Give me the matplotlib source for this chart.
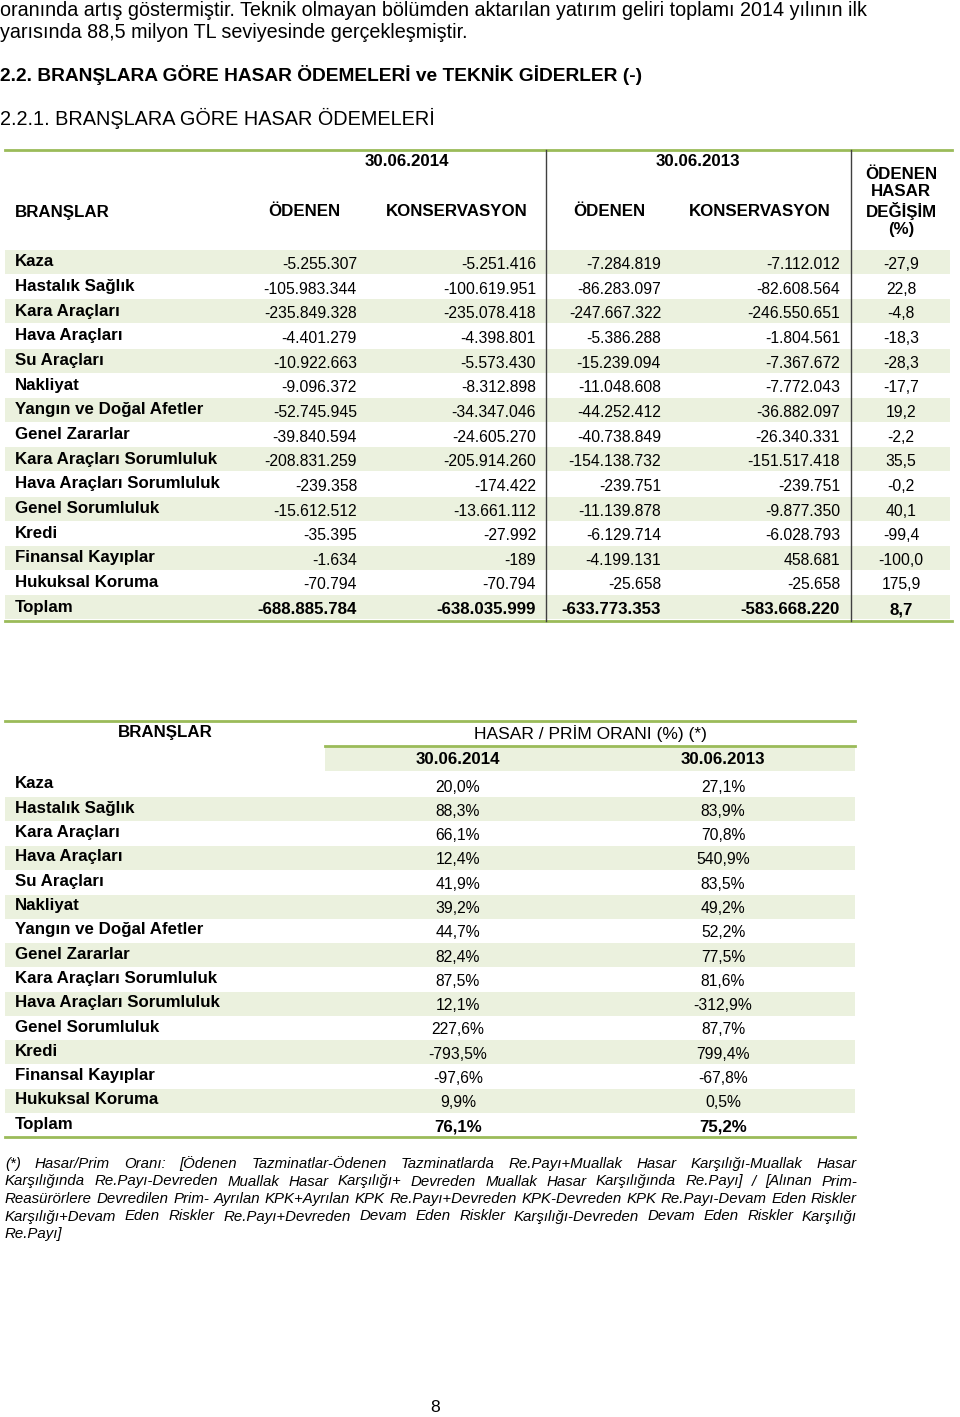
import matplotlib
matplotlib.use("Agg")
import matplotlib.pyplot as plt
from matplotlib.patches import Rectangle

plt.rcParams['font.family'] = ['Liberation Sans', 'DejaVu Sans']

GREEN = '#9bbb59'
SHADE = '#ebf1de'

branches = ["Kaza", "Hastalık Sağlık", "Kara Araçları", "Hava Araçları", "Su Araçları",
            "Nakliyat", "Yangın ve Doğal Afetler", "Genel Zararlar",
            "Kara Araçları Sorumluluk", "Hava Araçları Sorumluluk", "Genel Sorumluluk",
            "Kredi", "Finansal Kayıplar", "Hukuksal Koruma", "Toplam"]
odenen_2014 = [-5255307, -105983344, -235849328, -4401279, -10922663, -9096372, -52745945,
               -39840594, -208831259, -239358, -15612512, -35395, -1634, -70794, -688885784]
kons_2014 = [-5251416, -100619951, -235078418, -4398801, -5573430, -8312898, -34347046,
             -24605270, -205914260, -174422, -13661112, -27992, -189, -70794, -638035999]
odenen_2013 = [-7284819, -86283097, -247667322, -5386288, -15239094, -11048608, -44252412,
               -40738849, -154138732, -239751, -11139878, -6129714, -4199131, -25658, -633773353]
kons_2013 = [-7112012, -82608564, -246550651, -1804561, -7367672, -7772043, -36882097,
             -26340331, -151517418, -239751, -9877350, -6028793, 458681, -25658, -583668220]
degisim = [-27.9, 22.8, -4.8, -18.3, -28.3, -17.7, 19.2, -2.2, 35.5, -0.2, 40.1, -99.4,
           -100.0, 175.9, 8.7]
oran_2014 = [20.0, 88.3, 66.1, 12.4, 41.9, 39.2, 44.7, 82.4, 87.5, 12.1, 227.6, -793.5,
             -97.6, 9.9, 76.1]
oran_2013 = [27.1, 83.9, 70.8, 540.9, 83.5, 49.2, 52.2, 77.5, 81.6, -312.9, 87.7, 799.4,
             -67.8, 0.5, 75.2]

intro = ["oranında artış göstermiştir. Teknik olmayan bölümden aktarılan yatırım geliri toplamı 2014 yılının ilk",
         "yarısında 88,5 milyon TL seviyesinde gerçekleşmiştir."]
footnote = ["(*) Hasar/Prim Oranı: [Ödenen Tazminatlar-Ödenen Tazminatlarda Re.Payı+Muallak Hasar Karşılığı-Muallak Hasar",
            "Karşılığında Re.Payı-Devreden Muallak Hasar Karşılığı+ Devreden Muallak Hasar Karşılığında Re.Payı] / [Alınan Prim-",
            "Reasürörlere Devredilen Prim- Ayrılan KPK+Ayrılan KPK Re.Payı+Devreden KPK-Devreden KPK Re.Payı-Devam Eden Riskler",
            "Karşılığı+Devam Eden Riskler Re.Payı+Devreden Devam Eden Riskler Karşılığı-Devreden Devam Eden Riskler Karşılığı",
            "Re.Payı]"]


def tl(v):
    return f"{v:,}".replace(",", ".")


def pct(v):
    return f"{v:.1f}".replace(".", ",")


fig = plt.figure(figsize=(9.6, 14.17), dpi=100)
ax = fig.add_axes([0, 0, 1, 1])
ax.set_xlim(0, 960)
ax.set_ylim(1417, 0)
ax.axis('off')

# intro text and headings
for i, line in enumerate(intro):
    ax.text(0, 11 + i * 22, line, fontsize=14.2, va='center', ha='left')
ax.text(0, 75, "2.2. BRANŞLARA GÖRE HASAR ÖDEMELERİ ve TEKNİK GİDERLER (-)",
        fontsize=13.8, fontweight='bold', va='center')
ax.text(0, 118, "2.2.1. BRANŞLARA GÖRE HASAR ÖDEMELERİ", fontsize=14.3, va='center')

# ---- table 1 ----
y0, step = 262, 24.65
n = len(branches)
for i in range(n):
    y = y0 + i * step
    if i % 2 == 0:
        ax.add_patch(Rectangle((5, y - 12), 945, 24, color=SHADE, lw=0))
    bold = branches[i] == "Toplam"
    fw = 'bold' if bold else 'normal'
    fs = 12.2 if bold else 11.3
    ax.text(15, y, branches[i], fontsize=12.2, fontweight='bold', va='center')
    ax.text(357, y + 2.5, tl(odenen_2014[i]), fontsize=fs, fontweight=fw, ha='right', va='center')
    ax.text(536, y + 2.5, tl(kons_2014[i]), fontsize=fs, fontweight=fw, ha='right', va='center')
    ax.text(661, y + 2.5, tl(odenen_2013[i]), fontsize=fs, fontweight=fw, ha='right', va='center')
    ax.text(840, y + 2.5, tl(kons_2013[i]), fontsize=fs, fontweight=fw, ha='right', va='center')
    ax.text(901, y + 2.5, pct(degisim[i]), fontsize=fs, fontweight=fw, ha='center', va='center')

ax.plot([5, 952], [150, 150], color=GREEN, lw=2)
ax.plot([5, 952], [621, 621], color=GREEN, lw=2)
for x in (546, 851):
    ax.plot([x, x], [150, 621], color='#404040', lw=1)

hdr = dict(fontsize=12.2, fontweight='bold', va='center')
ax.text(407, 161, "30.06.2014", ha='center', **hdr)
ax.text(698, 161, "30.06.2013", ha='center', **hdr)
ax.text(15, 212, "BRANŞLAR", ha='left', **hdr)
ax.text(304, 212, "ÖDENEN", ha='center', **hdr)
ax.text(457, 212, "KONSERVASYON", ha='center', **hdr)
ax.text(609, 212, "ÖDENEN", ha='center', **hdr)
ax.text(760, 212, "KONSERVASYON", ha='center', **hdr)
ax.text(901, 202, "ÖDENEN\nHASAR\nDEĞİŞİM\n(%)", ha='center', linespacing=1.18, **hdr)

# ---- table 2 ----
y1, step2 = 785, 24.3
for i in range(n):
    y = y1 + i * step2
    if i % 2 == 1:
        ax.add_patch(Rectangle((5, y - 12), 850, 24, color=SHADE, lw=0))
    bold = branches[i] == "Toplam"
    fw = 'bold' if bold else 'normal'
    fs = 12.2 if bold else 11.3
    ax.text(15, y - 1, branches[i], fontsize=12.2, fontweight='bold', va='center')
    ax.text(458, y + 2, pct(oran_2014[i]) + "%", fontsize=fs, fontweight=fw, ha='center', va='center')
    ax.text(723, y + 2, pct(oran_2013[i]) + "%", fontsize=fs, fontweight=fw, ha='center', va='center')

ax.add_patch(Rectangle((325, 747), 530, 24, color=SHADE, lw=0))
ax.plot([5, 855], [721, 721], color=GREEN, lw=2)
ax.plot([325, 855], [746, 746], color=GREEN, lw=2)
ax.plot([5, 855], [1137, 1137], color=GREEN, lw=2)
ax.text(165, 732, "BRANŞLAR", ha='center', **hdr)
ax.text(590, 734, "HASAR / PRİM ORANI (%) (*)", ha='center', fontsize=12.5, va='center')
ax.text(458, 760, "30.06.2014", ha='center', **hdr)
ax.text(723, 760, "30.06.2013", ha='center', **hdr)

# ---- justified footnote ----
renderer = fig.canvas.get_renderer()
left, right = 5, 857
for i, line in enumerate(footnote):
    y = 1164 + i * 17.5
    words = line.split(" ")
    texts = [ax.text(0, y, w, fontsize=10.85, style='italic', va='center') for w in words]
    widths = [t.get_window_extent(renderer).width for t in texts]
    last = i == len(footnote) - 1
    gap = 3.0 if last or len(words) < 2 else (right - left - sum(widths)) / (len(words) - 1)
    x = left
    for t, w in zip(texts, widths):
        t.set_x(x)
        x += w + gap

ax.text(435, 1408, "8", fontsize=12.6, ha='center', va='center')

fig.savefig("out.png", dpi=100)
